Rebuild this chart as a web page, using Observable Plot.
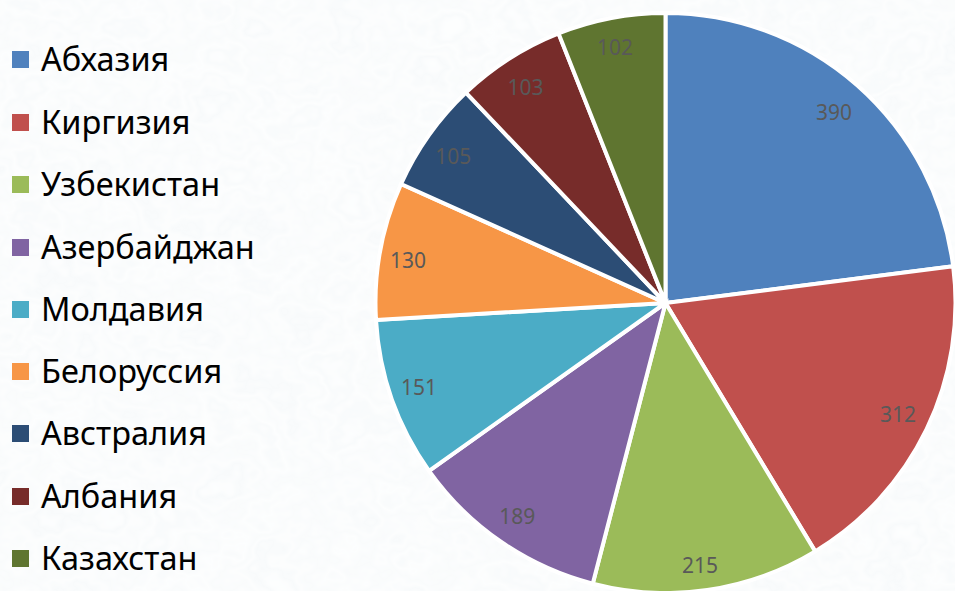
<!DOCTYPE html>
<html><head><meta charset="utf-8">
<script src="https://cdn.jsdelivr.net/npm/d3@7"></script>
<script src="https://cdn.jsdelivr.net/npm/@observablehq/plot@0.6"></script>
<style>
html,body{margin:0;padding:0;width:955px;height:591px;overflow:hidden}
body{position:relative;background:#fdfefe;}
#chart{position:absolute;left:0;top:0}
#legend{position:absolute;left:0;top:0;font-family:"Noto Sans",sans-serif;color:#000}
.it{position:absolute;left:12px;height:32px;display:flex;align-items:center;white-space:nowrap}
.sw{width:17px;height:17px;display:inline-block;margin-right:12px}
.lb{font-size:32.5px;line-height:32px;display:inline-block}
</style></head><body>
<div id="chart"></div><div id="legend"></div>
<script>
const categories=["Абхазия","Киргизия","Узбекистан","Азербайджан","Молдавия","Белоруссия","Австралия","Албания","Казахстан"];
const values=[390,312,215,189,151,130,105,103,102];
const colors=["#4f81bd","#c0504d","#9bbb59","#8064a2","#4bacc6","#f79646","#2c4d75","#772c2a","#5f7530"];
const legendTops=[43,106,168,231,293,355,417,480,542];
const labelRadii=[0.877,0.885,0.908,0.897,0.903,0.901,0.887,0.887,0.899];
const labelNudgeX=[0,1,-4,-1,0,-1,-3,-2,-2];
const labelNudgeY=[1,0,2,0,-2,5,3,2,1];

// Faint map-like texture behind the chart (decoration only, no data)
const texture=`<svg xmlns='http://www.w3.org/2000/svg' width='955' height='591'>
<filter id='f' x='0' y='0' width='100%' height='100%'>
<feTurbulence type='fractalNoise' baseFrequency='0.016 0.02' numOctaves='4' seed='7'/>
<feColorMatrix values='0 0 0 0 0.62  0 0 0 0 0.71  0 0 0 0 0.78  1.1 0 0 0 -0.05'/>
<feComponentTransfer><feFuncA type='table' tableValues='0 0 0.02 0.11 0.02 0.08 0.01 0.1 0.02 0 0'/></feComponentTransfer>
</filter><rect width='955' height='591' filter='url(#f)'/></svg>`;
document.body.style.backgroundImage=`url("data:image/svg+xml,${encodeURIComponent(texture)}")`;

const arcs=d3.pie().sort(null)(values);
const pxPerUnit=290;
const slices=categories.map((name,i)=>{
  const m=(arcs[i].startAngle+arcs[i].endAngle)/2;
  return {name,value:values[i],startAngle:arcs[i].startAngle,endAngle:arcs[i].endAngle,
          lx:labelRadii[i]*Math.sin(m)+labelNudgeX[i]/pxPerUnit,
          ly:labelRadii[i]*Math.cos(m)-labelNudgeY[i]/pxPerUnit};
});

const pieMark=Plot.dot(slices,{x:()=>0,y:()=>0,fill:"name",
  render(index,scales,channels){
    const g=d3.create("svg:g");
    const cx=scales.x(0),cy=scales.y(0),r=scales.x(1)-scales.x(0);
    const arc=d3.arc().innerRadius(0).outerRadius(r);
    for(const i of index){
      g.append("path")
       .attr("transform",`translate(${cx},${cy})`)
       .attr("d",arc(slices[i]))
       .attr("fill",channels.fill[i])
       .attr("stroke","#fff").attr("stroke-width",4).attr("stroke-linejoin","miter");
    }
    return g.node();
  }});

const plot=Plot.plot({
  width:955,height:591,margin:0,
  style:{background:"transparent",overflow:"hidden"},
  x:{axis:null,domain:[-1,1],range:[375.5,955.5]},
  y:{axis:null,domain:[-1,1],range:[593,13]},
  color:{domain:categories,range:colors},
  marks:[
    pieMark,
    Plot.text(slices,{x:"lx",y:"ly",text:d=>String(d.value),fill:"#595959",
      fontSize:21,fontFamily:"Noto Sans, sans-serif"})
  ]
});
document.getElementById("chart").append(plot);

const lg=document.getElementById("legend");
categories.forEach((c,i)=>{
  const d=document.createElement("div");d.className="it";d.style.top=legendTops[i]+"px";
  const s=document.createElement("span");s.className="sw";s.style.background=colors[i];
  const t=document.createElement("span");t.className="lb";t.textContent=c;
  d.append(s,t);lg.append(d);
});
</script>
</body></html>
